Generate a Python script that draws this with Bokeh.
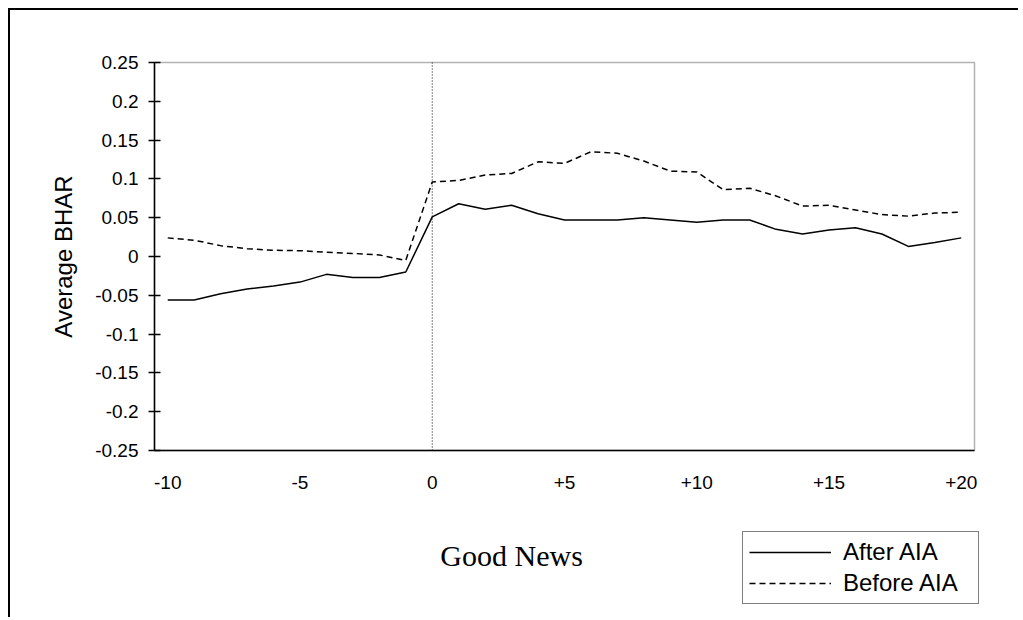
import math
from bokeh.plotting import figure
from bokeh.models import Range1d, FixedTicker, Legend, LegendItem, Label, BoxAnnotation
from bokeh.embed import file_html
from bokeh.resources import INLINE

days = list(range(-10, 21))
after_aia = [-0.056, -0.056, -0.048, -0.042, -0.038, -0.033, -0.023, -0.027, -0.027, -0.020,
             0.051, 0.068, 0.061, 0.066, 0.055, 0.047, 0.047, 0.047, 0.050, 0.047, 0.044,
             0.047, 0.047, 0.035, 0.029, 0.034, 0.037, 0.029, 0.013, 0.018, 0.024]
before_aia = [0.024, 0.021, 0.014, 0.010, 0.008, 0.0075, 0.0055, 0.004, 0.002, -0.005,
              0.096, 0.098, 0.105, 0.107, 0.122, 0.120, 0.135, 0.133, 0.123, 0.110, 0.109,
              0.086, 0.088, 0.078, 0.065, 0.066, 0.060, 0.054, 0.052, 0.056, 0.057]
x_ticks = [-10, -5, 0, 5, 10, 15, 20]
x_tick_labels = ["-10", "-5", "0", "+5", "+10", "+15", "+20"]
y_ticks = [-0.25, -0.2, -0.15, -0.1, -0.05, 0, 0.05, 0.1, 0.15, 0.2, 0.25]
y_tick_labels = ["-0.25", "-0.2", "-0.15", "-0.1", "-0.05", "0", "0.05", "0.1", "0.15", "0.2", "0.25"]
series_names = ["After AIA", "Before AIA"]
x_title = "Good News"
y_title = "Average BHAR"

TICK_FONT = "Liberation Sans"
Y_LO, Y_HI = y_ticks[0], y_ticks[-1]
X_LO, X_HI = days[0] - 0.5, days[-1] + 0.5

# The frame fills the whole figure; the plot area (x in [-10.5, 20.5],
# y in [-0.25, 0.25]) is drawn inside it with fixed-location axes so that the
# axis titles and the legend around it are not clipped.
p = figure(width=1010, height=609, output_backend="svg", toolbar_location=None,
           x_range=Range1d(-15.944, 22.239), y_range=Range1d(-0.46778, 0.31701),
           min_border_left=0, min_border_right=0, min_border_top=0, min_border_bottom=0)
p.styles = {"margin-left": "8px", "margin-top": "8px",
            "border-left": "2px solid #000", "border-top": "2px solid #000"}
p.background_fill_color = "white"
p.border_fill_color = "white"
p.outline_line_color = None
p.grid.visible = False

# plot-area box
p.add_layout(BoxAnnotation(left=X_LO, right=X_HI, bottom=Y_LO, top=Y_HI,
                           fill_alpha=0, fill_color=None,
                           line_color="black", line_width=1.5))

# x axis at the bottom of the plot area
p.xaxis.fixed_location = Y_LO
p.xaxis.bounds = (X_LO, X_HI)
p.xaxis.ticker = FixedTicker(ticks=x_ticks)
p.xaxis.major_label_overrides = {t: l for t, l in zip(x_ticks, x_tick_labels)}
p.xaxis.major_tick_out = 0
p.xaxis.major_tick_in = 0
p.xaxis.minor_tick_out = 0
p.xaxis.minor_tick_in = 0
p.xaxis.major_label_standoff = 25
p.xaxis.axis_line_color = "black"
p.xaxis.axis_line_width = 1.5
p.xaxis.major_label_text_font = TICK_FONT
p.xaxis.major_label_text_font_size = "19px"
p.xaxis.major_label_text_color = "black"

# y axis at the left of the plot area
p.yaxis.fixed_location = X_LO
p.yaxis.bounds = (Y_LO, Y_HI)
p.yaxis.ticker = FixedTicker(ticks=y_ticks)
p.yaxis.major_label_overrides = {t: l for t, l in zip(y_ticks, y_tick_labels)}
p.yaxis.major_tick_out = 6
p.yaxis.major_tick_in = 6
p.yaxis.major_tick_line_color = "black"
p.yaxis.major_tick_line_width = 1.5
p.yaxis.minor_tick_out = 0
p.yaxis.minor_tick_in = 0
p.yaxis.axis_line_color = "black"
p.yaxis.axis_line_width = 1.5
p.yaxis.major_label_standoff = 10
p.yaxis.major_label_text_font = TICK_FONT
p.yaxis.major_label_text_font_size = "19px"
p.yaxis.major_label_text_color = "black"

# dotted event-day line
p.segment(x0=[0], y0=[Y_LO], x1=[0], y1=[Y_HI], line_color="black",
          line_width=1, line_dash="1 2")

r_after = p.line(days, after_aia, line_color="black", line_width=1.5)
r_before = p.line(days, before_aia, line_color="black", line_width=1.5, line_dash="6 4")

# axis titles
p.add_layout(Label(x=-13.94, y=0.0, text=y_title, angle=math.pi / 2,
                   text_align="center", text_baseline="middle",
                   text_font="Liberation Sans", text_font_size="24px",
                   text_color="black"))
p.add_layout(Label(x=3.0, y=-0.385, text=x_title, text_align="center",
                   text_baseline="middle", text_font="Liberation Serif",
                   text_font_size="30px", text_color="black"))

legend = Legend(items=[LegendItem(label=series_names[0], renderers=[r_after]),
                       LegendItem(label=series_names[1], renderers=[r_before])],
                location=(732, 15), orientation="vertical",
                border_line_color="black", border_line_width=1.5,
                background_fill_color="white", background_fill_alpha=1,
                label_text_font="Liberation Sans", label_text_font_size="24px",
                label_text_color="black", glyph_width=82, glyph_height=20,
                label_standoff=12, label_width=129, padding=6, spacing=3, margin=0)
p.add_layout(legend)

open("out.html", "w").write(file_html(p, INLINE))
